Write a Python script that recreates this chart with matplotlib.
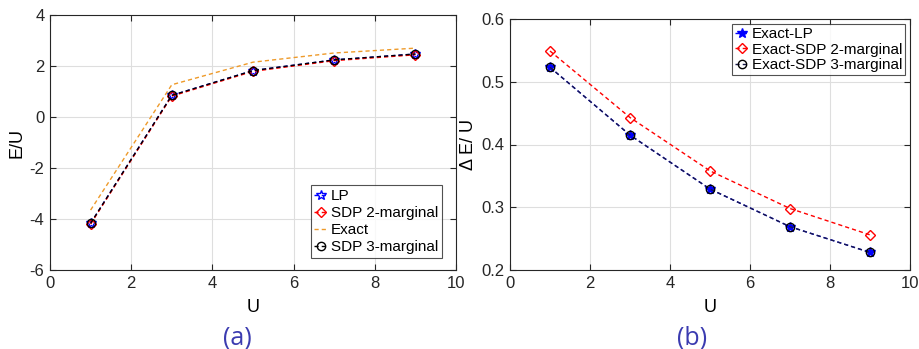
import matplotlib
matplotlib.use("Agg")
import matplotlib.pyplot as plt

U = [1, 3, 5, 7, 9]
# Panel (a): E/U
lp = [-4.17, 0.85, 1.82, 2.24, 2.47]
sdp2 = [-4.20, 0.82, 1.79, 2.21, 2.44]
exact = [-3.65, 1.265, 2.15, 2.51, 2.70]
sdp3 = [-4.17, 0.85, 1.82, 2.24, 2.47]
# Panel (b): Delta E / U
d_lp = [0.523, 0.415, 0.329, 0.269, 0.228]
d_sdp2 = [0.549, 0.443, 0.358, 0.298, 0.256]
d_sdp3 = [0.523, 0.415, 0.329, 0.269, 0.228]

plt.rcParams['font.family'] = ['Liberation Sans', 'DejaVu Sans']
plt.rcParams['axes.unicode_minus'] = False
fig = plt.figure(figsize=(9.2, 3.49), dpi=100)
W, H = 920, 349
ax1 = fig.add_axes([50 / W, 1 - 270 / H, 406 / W, 255 / H])
ax2 = fig.add_axes([510 / W, 1 - 270 / H, 400 / W, 251 / H])

orange = '#EE9A2A'
DASH = (0, (3, 2.2))

def style(ax):
    ax.grid(True, color='#DEDEDE', linewidth=0.8)
    ax.set_axisbelow(True)
    ax.tick_params(direction='in', top=True, right=True, labelsize=12, length=4, colors='#262626', pad=4)
    for s in ax.spines.values():
        s.set_color('#262626')
        s.set_linewidth(0.8)
    ax.set_xlim(0, 10)
    ax.set_xticks([0, 2, 4, 6, 8, 10])

ax1.plot(U, lp, linestyle=DASH, color='blue', marker='*', markersize=7, mfc='none', mec='blue', lw=1, label='LP')
ax1.plot(U, sdp2, linestyle=DASH, color='red', marker='D', markersize=5, mfc='none', mec='red', lw=1, label='SDP 2-marginal')
ax1.plot(U, exact, linestyle=DASH, color=orange, lw=1, label='Exact')
ax1.plot(U, sdp3, linestyle=DASH, color='black', marker='o', markersize=6, mfc='none', mec='black', lw=1, label='SDP 3-marginal')
style(ax1)
ax1.set_ylim(-6, 4)
ax1.set_yticks([-6, -4, -2, 0, 2, 4])
ax1.set_xlabel('U', fontsize=13, labelpad=6)
ax1.set_ylabel('E/U', fontsize=13, labelpad=3)
leg1 = ax1.legend(loc='lower right', bbox_to_anchor=(0.966, 0.047), fontsize=11, frameon=True, fancybox=False,
                  edgecolor='#262626', borderpad=0.25, labelspacing=0.2, handlelength=0.9, handletextpad=0.2,
                  borderaxespad=0.0)
leg1.get_frame().set_linewidth(0.8)

ax2.plot(U, d_lp, linestyle=DASH, color='blue', marker='*', markersize=7, mfc='blue', mec='blue', lw=1, label='Exact-LP')
ax2.plot(U, d_sdp2, linestyle=DASH, color='red', marker='D', markersize=5, mfc='none', mec='red', lw=1, label='Exact-SDP 2-marginal')
ax2.plot(U, d_sdp3, linestyle=DASH, color='#1a1a4a', marker='o', markersize=6, mfc='none', mec='black', lw=1, label='Exact-SDP 3-marginal')
style(ax2)
ax2.set_ylim(0.2, 0.6)
ax2.set_yticks([0.2, 0.3, 0.4, 0.5, 0.6])
ax2.set_xlabel('U', fontsize=13, labelpad=6)
ax2.set_ylabel('Δ E/ U', fontsize=13, labelpad=3)
leg2 = ax2.legend(loc='upper right', bbox_to_anchor=((905 - 510) / 400, (270 - 24) / 251), fontsize=11, frameon=True,
                  fancybox=False, edgecolor='#262626', borderpad=0.2, labelspacing=0.1, handlelength=0.9,
                  handletextpad=0.2, borderaxespad=0.0)
leg2.get_frame().set_linewidth(0.8)

fig.text(237 / W, 1 - 338 / H, '(a)', color='#3B3BB0', fontsize=18, ha='center', va='center', family='Open Sans')
fig.text(692 / W, 1 - 338 / H, '(b)', color='#3B3BB0', fontsize=18, ha='center', va='center', family='Open Sans')

fig.savefig('out.png', dpi=100)
